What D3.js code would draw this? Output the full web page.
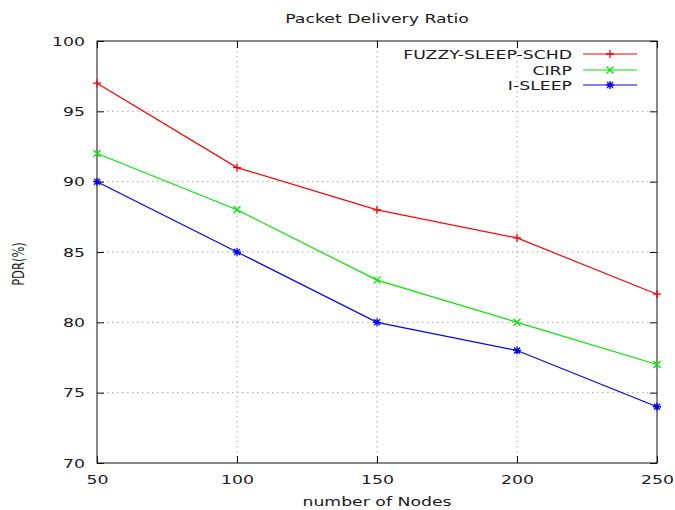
<!DOCTYPE html>
<html>
<head>
<meta charset="utf-8">
<script src="https://d3js.org/d3.v7.min.js"></script>
<style>
  body { margin: 0; background: #fff; }
  text { font-family: "DejaVu Sans", sans-serif; font-size: 13px; fill: #1a1a1a; }
</style>
</head>
<body>
<script>
// chart values
var nodes = [50, 100, 150, 200, 250];
var fuzzy = [97, 91, 88, 86, 82];
var cirp = [92, 88, 83, 80, 77];
var isleep = [90, 85, 80, 78, 74];
var seriesNames = ["FUZZY-SLEEP-SCHD", "CIRP", "I-SLEEP"];
var seriesColors = ["#ff0000", "#00e800", "#0000ff"];
var xTicks = [50, 100, 150, 200, 250];
var yTicks = [70, 75, 80, 85, 90, 95, 100];

function init() {
    var w = 675, h = 510;
    var left = 97, right = 657, top = 41, bottom = 463;
    var SX = 1.33; // picture text is stretched sideways

    var x = d3.scaleLinear().domain([50, 250]).range([left, right]);
    var y = d3.scaleLinear().domain([70, 100]).range([bottom, top]);

    var svg = d3.select("body").append("svg")
        .attr("width", w)
        .attr("height", h);

    // dotted grid
    svg.selectAll("line.gx")
        .data(xTicks.slice(1, -1))
        .enter().append("line")
        .attr("x1", function(d) { return x(d); })
        .attr("x2", function(d) { return x(d); })
        .attr("y1", top).attr("y2", bottom)
        .attr("stroke", "#a8a8a8").attr("stroke-dasharray", "1.5,3.5");
    svg.selectAll("line.gy")
        .data(yTicks.slice(1, -1))
        .enter().append("line")
        .attr("y1", function(d) { return y(d); })
        .attr("y2", function(d) { return y(d); })
        .attr("x1", left).attr("x2", right)
        .attr("stroke", "#a8a8a8").attr("stroke-dasharray", "1.5,3.5");

    // inward tics on all four sides
    function tics(axis, tx, ty) {
        var g = svg.append("g").attr("transform", "translate(" + tx + "," + ty + ")")
            .call(axis.tickSize(-7).tickFormat(""));
        g.select(".domain").remove();
        g.selectAll("line").attr("stroke", "#111");
    }
    tics(d3.axisLeft(y).tickValues(yTicks), left, 0);
    tics(d3.axisRight(y).tickValues(yTicks), right, 0);
    tics(d3.axisBottom(x).tickValues(xTicks), 0, bottom);
    tics(d3.axisTop(x).tickValues(xTicks), 0, top);

    // tick labels
    var yl = svg.append("g").attr("transform", "translate(" + left + ",0)")
        .call(d3.axisLeft(y).tickValues(yTicks).tickSize(0).tickPadding(12));
    yl.select(".domain").remove();
    yl.selectAll("text").attr("transform", "scale(" + SX + ",1)").attr("x", -12 / SX)
        .style("font-family", null).style("font-size", null).attr("font-family", null).attr("font-size", null);

    var xl = svg.append("g").attr("transform", "translate(0," + bottom + ")")
        .call(d3.axisBottom(x).tickValues(xTicks).tickSize(0).tickPadding(12));
    xl.select(".domain").remove();
    xl.selectAll("text").attr("transform", "scale(" + SX + ",1)");
    yl.attr("font-family", null).attr("font-size", null);
    xl.attr("font-family", null).attr("font-size", null);
    svg.selectAll("g text").attr("fill", "#1a1a1a");

    // frame
    svg.append("rect")
        .attr("x", left).attr("y", top)
        .attr("width", right - left).attr("height", bottom - top)
        .attr("fill", "none").attr("stroke", "#111").attr("stroke-width", 1);

    // series
    var markers = [
        "M-4,0H4M0,-4V4",
        "M-3.5,-3.5L3.5,3.5M-3.5,3.5L3.5,-3.5",
        "M-4,0H4M0,-4V4M-3,-3L3,3M-3,3L3,-3"
    ];
    var all = [fuzzy, cirp, isleep];
    var line = d3.line()
        .x(function(d, i) { return x(nodes[i]); })
        .y(function(d) { return y(d); });

    all.forEach(function(vals, k) {
        svg.append("path")
            .attr("d", line(vals))
            .attr("fill", "none")
            .attr("stroke", seriesColors[k])
            .attr("stroke-width", 1.2);
        svg.selectAll("path.m" + k)
            .data(vals)
            .enter().append("path")
            .attr("class", "m" + k)
            .attr("transform", function(d, i) { return "translate(" + x(nodes[i]) + "," + y(d) + ")"; })
            .attr("d", markers[k])
            .attr("stroke", seriesColors[k])
            .attr("stroke-width", 1.3)
            .attr("fill", "none");
    });

    // legend
    var ly = [54, 70, 85];
    seriesNames.forEach(function(name, k) {
        svg.append("text")
            .attr("transform", "translate(572," + (ly[k] + 4.7) + ") scale(" + SX + ",1)")
            .attr("text-anchor", "end")
            .text(name);
        svg.append("line")
            .attr("x1", 583).attr("x2", 637)
            .attr("y1", ly[k]).attr("y2", ly[k])
            .attr("stroke", seriesColors[k]).attr("stroke-width", 1.2);
        svg.append("path")
            .attr("transform", "translate(610," + ly[k] + ")")
            .attr("d", markers[k])
            .attr("stroke", seriesColors[k])
            .attr("stroke-width", 1.3)
            .attr("fill", "none");
    });

    // titles
    svg.append("text")
        .attr("transform", "translate(377,22.5) scale(" + SX + ",1)")
        .attr("text-anchor", "middle")
        .text("Packet Delivery Ratio");
    svg.append("text")
        .attr("transform", "translate(377,506) scale(" + SX + ",1)")
        .attr("text-anchor", "middle")
        .text("number of Nodes");
    svg.append("text")
        .attr("transform", "translate(23.5,264) scale(" + SX + ",1) rotate(-90)")
        .attr("text-anchor", "middle")
        .style("font-size", "11.5px")
        .text("PDR(%)");
}
window.onload = init;
</script>
</body>
</html>
